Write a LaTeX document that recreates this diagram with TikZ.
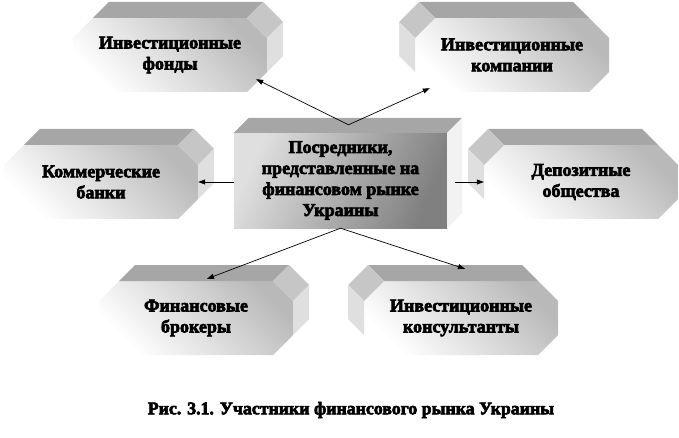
\documentclass[tikz,border=0pt]{standalone}
\usepackage{fontspec}
\setmainfont{Liberation Serif}[BoldFeatures={FakeBold=3.5}]
\usetikzlibrary{arrows.meta, backgrounds}

\tikzset{
  frontface/.style={top color=gray!55, bottom color=white, shading angle=-45},
  midface/.style={top color=gray!25, middle color=gray!5, bottom color=gray, shading angle=66},
  topface/.style={fill=gray!70},
  cornerface/.style={fill=gray!45},
  sideface/.style={fill=gray!25}
}

% bevelled box behind a node: #1 node, #2 = 1 (side on the right) or -1 (side on the left)
\newcommand{\bevel}[2]{%
  \begin{scope}[shift={(#1.center)}]
    \shade[frontface] (-77,-37) -- (77,-37) -- (97,-17) -- (97,17) -- (77,37) -- (-77,37) -- (-97,17) -- (-97,-17) -- cycle;
  \end{scope}
  \begin{scope}[shift={(#1.center)}, xscale=#2]
    \fill[topface] (-77,-37) -- (77,-37) -- (93,-53) -- (-61,-53) -- cycle;
    \fill[cornerface] (77,-37) -- (97,-17) -- (113,-33) -- (93,-53) -- cycle;
    \fill[sideface] (97,-17) -- (97,17) -- (113,1) -- (113,-33) -- cycle;
  \end{scope}}

\begin{document}
\begin{tikzpicture}[
  x=1pt, y=-1pt,
  box/.style={minimum width=194pt, minimum height=74pt, inner sep=0pt, align=center, font=\fontsize{18}{21}\selectfont\bfseries},
  link/.style={-{Triangle[length=7pt,width=5pt]}, line width=0.7pt}
]
  \useasboundingbox (0,0) rectangle (679,438);

  \node[box, minimum width=213pt, minimum height=95pt] (mid) at (340.5,180.5) {Посредники,\\представленные на\\финансовом рынке\\Украины};

  \node[box] (fond) at (170,55) {Инвестиционные\\фонды};
  \node[box] (komp) at (512,55) {Инвестиционные\\компании};
  \node[box] (bank) at (101,182) {Коммерческие\\банки};
  \node[box] (depo) at (581,182) {Депозитные\\общества};
  \node[box] (brok) at (196,318) {Финансовые\\брокеры};
  \node[box] (kons) at (461,318) {Инвестиционные\\консультанты};

  \begin{scope}[on background layer]
    \bevel{fond}{1}
    \bevel{bank}{1}
    \bevel{brok}{1}
    \bevel{komp}{-1}
    \bevel{depo}{-1}
    \bevel{kons}{-1}
    % centre block
    \shade[midface] (mid.north west) rectangle (mid.south east);
    \fill[topface] (mid.north west) -- (mid.north east) -- ++(15,-15) -- ([shift={(15,-15)}]mid.north west) -- cycle;
    \fill[gray!10] (mid.north east) -- (mid.south east) -- ++(15,-15) -- ([shift={(15,-15)}]mid.north east) -- cycle;
  \end{scope}

  \coordinate (midtop) at ([shift={(8,-8)}]mid.north);
  \coordinate (midside) at ([shift={(8,0)}]mid.east);

  \draw[link] (midtop) -- ([shift={(-11,-13)}]fond.south east);
  \draw[link] (midtop) -- ([shift={(15,-4)}]komp.south west);
  \draw[link] (mid.west |- bank.east) -- (bank.east);
  \draw[link] (midside |- depo.west) -- (depo.west);
  \draw[link] (mid.south) -- ([shift={(11,-2)}]brok.north);
  \draw[link] (mid.south) -- ([shift={(4,-12)}]kons.north);

  \node[font=\fontsize{17.8}{21}\selectfont\bfseries] (caption) at (351,410) {Рис. 3.1. Участники финансового рынка Украины};
\end{tikzpicture}
\end{document}
